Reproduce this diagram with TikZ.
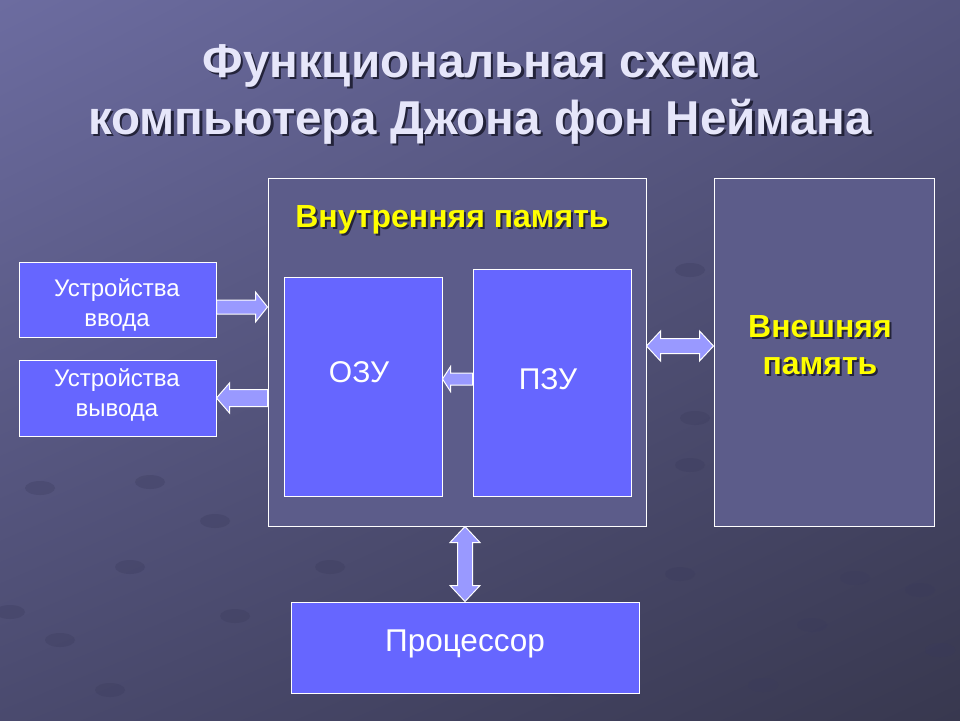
\documentclass[tikz,border=0pt]{standalone}
\usepackage{fontspec}
\setmainfont{Liberation Sans}
\usetikzlibrary{calc,shadings}
\definecolor{bgA}{HTML}{6C6CA0}
\definecolor{bgB}{HTML}{55557F}
\definecolor{bgC}{HTML}{4A4A6E}
\definecolor{bgD}{HTML}{38384F}
\definecolor{panel}{HTML}{5C5C8A}
\definecolor{bright}{HTML}{6666FF}
\definecolor{arrowc}{HTML}{9999FF}
\definecolor{titlec}{HTML}{E6E6FA}
\definecolor{shadowc}{HTML}{23233A}
\definecolor{yel}{HTML}{FFFF00}
\definecolor{blob}{HTML}{3A3A5C}
\tikzset{
  panelbox/.style={draw=white, line width=1pt, fill=panel, inner sep=0pt},
  brightbox/.style={draw=white, line width=1pt, fill=bright, inner sep=0pt},
  fatarrow/.style={draw=white, line width=1pt, fill=arrowc, line join=miter},
  whitetext/.style={text=white, inner sep=0pt, align=center},
  yelfont/.style={font=\fontsize{32}{37}\selectfont\bfseries},
  yeltext/.style={text=yel, inner sep=0pt, align=center, yelfont},
  shadowtext/.style={text=shadowc, inner sep=0pt, align=center},
  titlefont/.style={font=\fontsize{47.5}{57}\selectfont\bfseries},
  blobst/.style={fill=blob, opacity=0.3}
}
% single arrow: #1 tail, #2 tip, #3 shaft half width, #4 head half width, #5 head length
\newcommand{\singlearrow}[5]{%
  \coordinate (hc) at ($(#2)!#5!(#1)$);
  \filldraw[fatarrow] ($(#1)!#3!90:(#2)$) -- ($(hc)!#3!90:(#2)$) -- ($(hc)!#4!90:(#2)$) -- (#2)
    -- ($(hc)!#4!-90:(#2)$) -- ($(hc)!#3!-90:(#2)$) -- ($(#1)!#3!-90:(#2)$) -- cycle;}
% double arrow
\newcommand{\doublearrow}[5]{%
  \coordinate (ha) at ($(#1)!#5!(#2)$);
  \coordinate (hb) at ($(#2)!#5!(#1)$);
  \filldraw[fatarrow] (#1) -- ($(ha)!#4!90:(#2)$) -- ($(ha)!#3!90:(#2)$) -- ($(hb)!#3!90:(#2)$)
    -- ($(hb)!#4!90:(#2)$) -- (#2) -- ($(hb)!#4!-90:(#2)$) -- ($(hb)!#3!-90:(#2)$)
    -- ($(ha)!#3!-90:(#2)$) -- ($(ha)!#4!-90:(#2)$) -- cycle;}
\begin{document}
\begin{tikzpicture}[x=1pt,y=-1pt]
\useasboundingbox (0,0) rectangle (960,720);
\shade[upper left=bgA, upper right=bgB, lower left=bgC, lower right=bgD] (0,0) rectangle (960,720);
% faint background pattern
\foreach \bx/\by in {130/567, 215/521, 330/567, 40/488, 150/482, 235/616, 60/640, 10/612,
  680/574, 855/578, 812/625, 763/685, 940/650, 690/465, 695/418, 690/270, 920/590, 560/690, 430/655, 110/690}
  \fill[blobst] (\bx,\by) ellipse [x radius=15pt, y radius=7pt];
% title
\node[shadowtext, titlefont] at (482.5,96.5) {Функциональная схема\\компьютера Джона фон Неймана};
\node[text=titlec, inner sep=0pt, align=center, titlefont] (title) at (480,94) {Функциональная схема\\компьютера Джона фон Неймана};
% boxes
\node[panelbox, minimum width=378pt, minimum height=348pt] (mem) at (457,352) {};
\node[panelbox, minimum width=220pt, minimum height=348pt] (ext) at (824,352) {};
\node[brightbox, minimum width=158pt, minimum height=219pt] (ram) at (363,386.5) {};
\node[brightbox, minimum width=158pt, minimum height=227pt] (rom) at (552,382.5) {};
\node[brightbox, minimum width=197pt, minimum height=75pt] (inp) at (117.5,299.5) {};
\node[brightbox, minimum width=197pt, minimum height=76pt] (outp) at (117.5,398) {};
\node[brightbox, minimum width=348pt, minimum height=91pt] (proc) at (465,647.5) {};
% labels
\node[shadowtext, yelfont] at (454,222) {Внутренняя память};
\node[yeltext] (memlbl) at (452,220) {Внутренняя память};
\node[shadowtext, yelfont] at (822,347) {Внешняя\\память};
\node[yeltext] (extlbl) at (820,345) {Внешняя\\память};
\node[whitetext, font=\fontsize{30}{34}\selectfont] (ramlbl) at (359,372) {ОЗУ};
\node[whitetext, font=\fontsize{30}{34}\selectfont] (romlbl) at (548,379) {ПЗУ};
\node[whitetext, font=\fontsize{24}{29.5}\selectfont] (inplbl) at (117,305) {Устройства\\ввода};
\node[whitetext, font=\fontsize{24}{29.5}\selectfont] (outlbl) at (117,395) {Устройства\\вывода};
\node[whitetext, font=\fontsize{31.5}{36}\selectfont] (proclbl) at (465,644) {Процессор};
% arrows
\coordinate (a1) at ($(inp.east)+(0,7.5)$);
\coordinate (b1) at (mem.west |- a1);
\singlearrow{a1}{b1}{7pt}{15pt}{12pt}
\coordinate (a2) at (mem.west |- outp.east);
\singlearrow{a2}{outp.east}{8.5pt}{15pt}{13pt}
\coordinate (a3) at ($(rom.west)+(0,-3.5)$);
\coordinate (b3) at (ram.east |- a3);
\singlearrow{a3}{b3}{6pt}{12.5pt}{8pt}
\coordinate (a4) at ($(mem.east)+(0,-6)$);
\coordinate (b4) at (ext.west |- a4);
\doublearrow{a4}{b4}{7.5pt}{15pt}{14pt}
\coordinate (b5) at (mem.south -| proc.north);
\doublearrow{proc.north}{b5}{7.5pt}{15pt}{16pt}
\end{tikzpicture}
\end{document}
